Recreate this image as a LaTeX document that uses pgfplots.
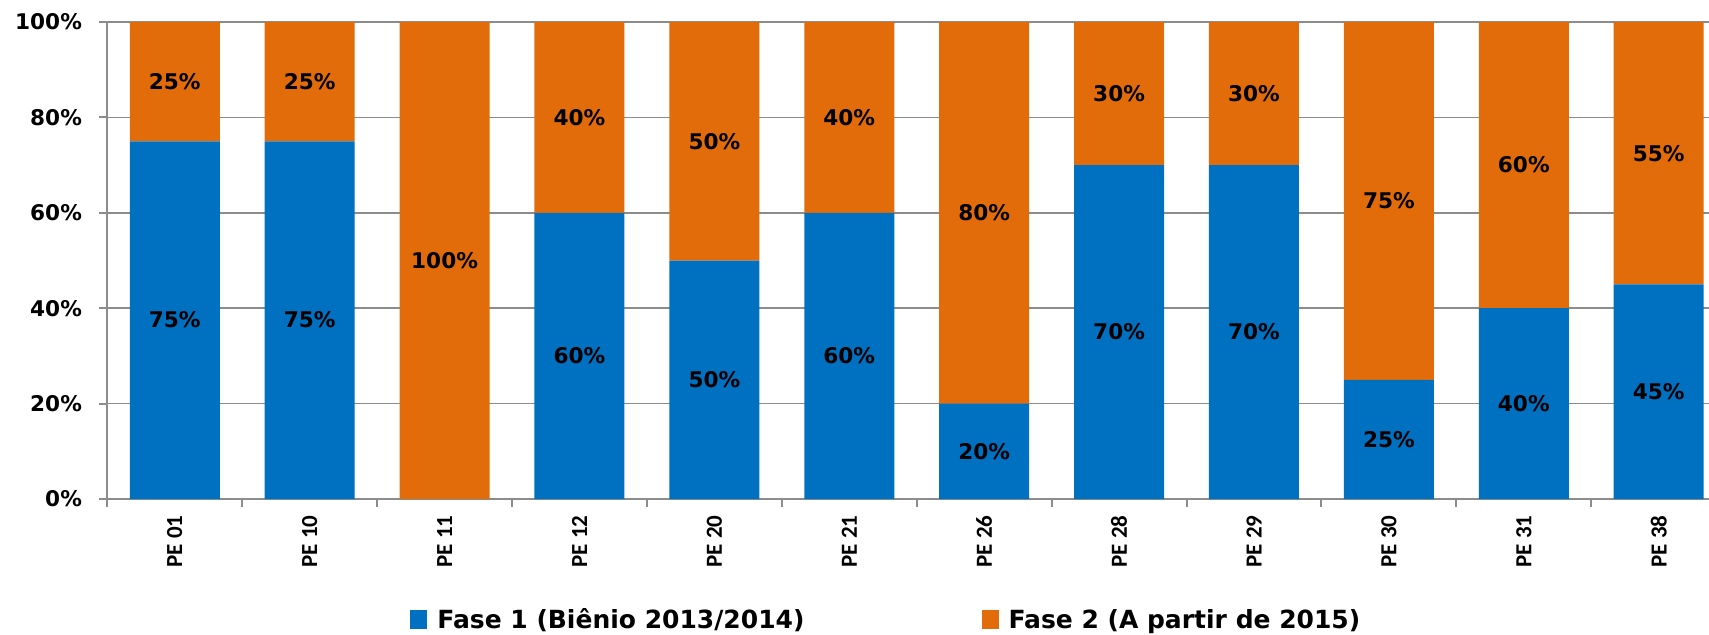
\documentclass[border=0pt]{standalone}
\usepackage{fontspec}
\setmainfont{DejaVu Sans}
\newfontfamily\calib{Carlito}
\usepackage{pgfplots}
\usepackage{pgfplotstable}
\pgfplotsset{compat=1.18}
\definecolor{fblue}{HTML}{0070C0}
\definecolor{forange}{HTML}{E36C0A}
\definecolor{gridgray}{HTML}{8C8C8C}
\pgfplotstableread{
x f1 f2
0 75 25
1 75 25
2 0 100
3 60 40
4 50 50
5 60 40
6 20 80
7 70 30
8 70 30
9 25 75
10 40 60
11 45 55
}\data
\pgfplotsset{
  geom/.style={scale only axis, width=800.85pt, height=238.5pt,
    xmin=-0.5, xmax=11.373, ymin=0, ymax=100},
}
\begin{document}
\begin{tikzpicture}
\begin{axis}[
  name=ax,
  geom,
  ybar stacked,
  bar width=45pt,
  axis x line*=bottom, axis y line*=left,
  axis line style={gridgray, line width=1pt},
  ymajorgrids, grid style={gridgray, line width=0.8pt},
  tick align=outside,
  major tick length=4pt,
  tick style={gridgray, line width=1pt},
  ytick={0,20,...,100},
  yticklabels={0\%,20\%,40\%,60\%,80\%,100\%},
  yticklabel style={font=\fontsize{10.8}{12}\selectfont\bfseries, inner sep=0pt, xshift=-8.5pt},
  xtick={-0.5,0.5,...,10.5},
  xticklabels={},
  extra x ticks={0,1,...,11},
  extra x tick labels={PE 01,PE 10,PE 11,PE 12,PE 20,PE 21,PE 26,PE 28,PE 29,PE 30,PE 31,PE 38},
  extra x tick style={major tick length=0pt, grid=none},
  xticklabel style={yshift=-8pt, rotate=90, anchor=east, font=\calib\fontsize{11.5}{13}\selectfont\bfseries, inner sep=0pt},
  legend style={at={(0.189,-0.2537)}, anchor=west, draw=none, fill=none, legend columns=2, inner sep=0pt,
    nodes={inner sep=0pt},
    font=\fontsize{12.5}{14}\selectfont\bfseries,
    /tikz/every odd column/.append style={column sep=5pt},
    /tikz/every even column/.append style={column sep=88.5pt}},
]
\addplot+[fill=fblue, draw=none, legend image code/.code={\fill[fblue] (0pt,-4.3pt) rectangle (8.5pt,4.8pt);}] table[x=x, y=f1] {\data};
\addlegendentry{Fase 1 (Biênio 2013/2014)}
\addplot+[fill=forange, draw=none, legend image code/.code={\fill[forange] (0pt,-4.3pt) rectangle (8.5pt,4.8pt);}] table[x=x, y=f2] {\data};
\addlegendentry{Fase 2 (A partir de 2015)}
\end{axis}
\begin{axis}[
  geom,
  at={(ax.south west)}, anchor=south west,
  hide axis, clip=false,
  point meta=explicit,
  nodes near coords={\pgfmathprintnumber{\pgfplotspointmeta}\%},
  /pgf/number format/assume math mode=true,
  every node near coord/.append style={font=\fontsize{10.8}{12}\selectfont\bfseries, black, anchor=center, inner sep=0pt},
]
\addplot[only marks, mark=none, skip coords between index={2}{3}] table[x=x, y expr=\thisrow{f1}/2, meta=f1] {\data};
\addplot[only marks, mark=none] table[x=x, y expr=\thisrow{f1}+\thisrow{f2}/2, meta=f2] {\data};
\end{axis}
\pgfresetboundingbox
\path (ax.south west) ++(-53.65pt,-67.5pt) rectangle ++(854.5pt,317pt);
\end{tikzpicture}
\end{document}
